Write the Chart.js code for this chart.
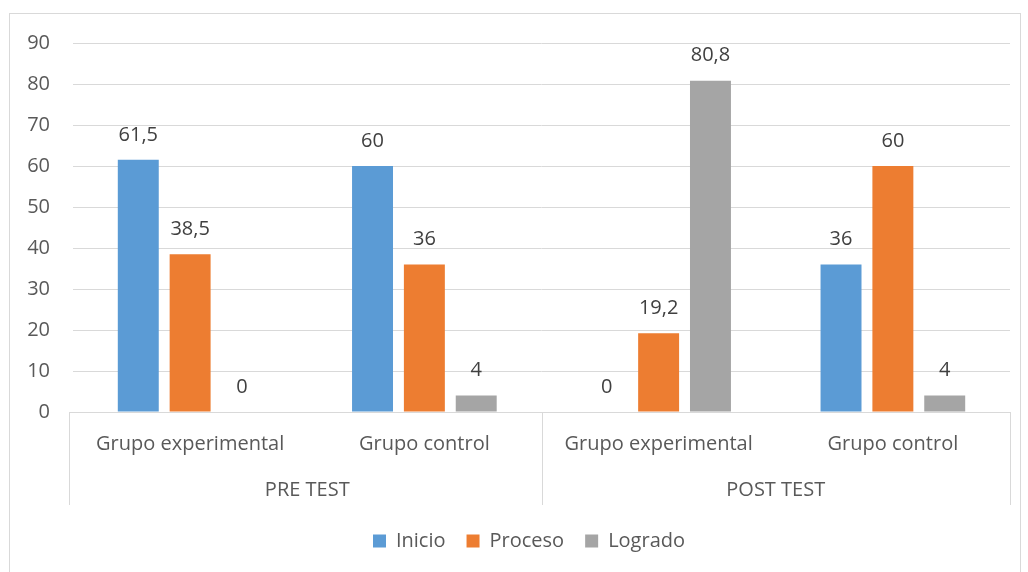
<!DOCTYPE html>
<html>
<head>
<meta charset="utf-8">
<script src="https://cdn.jsdelivr.net/npm/chart.js@4.4.1/dist/chart.umd.min.js"></script>
<style>
  html, body { margin: 0; padding: 0; background: #fff; }
  #frame { position: absolute; left: 9px; top: 13px; width: 1010px; height: 580px; border: 1px solid #d9d9d9; }
  #wrap { position: absolute; left: 0; top: 0; width: 1028px; height: 572px; }
</style>
</head>
<body>
<div id="frame"></div>
<div id="wrap"><canvas id="chart" width="1028" height="572"></canvas></div>
<script>
// categorías y series
const categories = ['Grupo experimental', 'Grupo control', 'Grupo experimental', 'Grupo control'];
const groups = ['PRE TEST', 'POST TEST'];
const inicio = [61.5, 60, 0, 36];
const proceso = [38.5, 36, 19.2, 60];
const logrado = [0, 4, 80.8, 4];
const yTicks = [0, 10, 20, 30, 40, 50, 60, 70, 80, 90];

const FONT = '"Open Sans", sans-serif';
const SIZE = 20;
const TEXT = '#595959';
const GRID = '#d9d9d9';

// etiquetas de datos sobre las barras
const dataLabels = {
    id: 'dataLabels',
    afterDatasetsDraw(chart) {
        const ctx = chart.ctx;
        ctx.save();
        ctx.font = SIZE + 'px ' + FONT;
        ctx.fillStyle = '#404040';
        ctx.textAlign = 'center';
        ctx.textBaseline = 'middle';
        chart.data.datasets.forEach((ds, i) => {
            chart.getDatasetMeta(i).data.forEach((bar, j) => {
                const txt = String(ds.data[j]).replace('.', ',');
                ctx.fillText(txt, bar.x, bar.y - 25);
            });
        });
        ctx.restore();
    }
};

// líneas divisorias del eje de categorías
const groupLines = {
    id: 'groupLines',
    afterDraw(chart) {
        const ctx = chart.ctx;
        const x = chart.scales.x;
        const area = chart.chartArea;
        const mid = (x.getPixelForValue(1) + x.getPixelForValue(2)) / 2;
        const bottom = area.bottom + 93;
        ctx.save();
        ctx.strokeStyle = GRID;
        ctx.lineWidth = 1;
        ctx.beginPath();
        ctx.moveTo(area.left - 4, area.bottom + 0.5);
        ctx.lineTo(area.right, area.bottom + 0.5);
        [area.left - 4, mid, area.right].forEach(px => {
            const p = Math.round(px) + 0.5;
            ctx.moveTo(p, area.bottom);
            ctx.lineTo(p, bottom);
        });
        ctx.stroke();
        ctx.restore();
    }
};

// desplaza la leyenda como en el original
const legendShift = {
    id: 'legendShift',
    afterUpdate(chart) {
        chart.legend.left += 19;
        chart.legend.right += 19;
    }
};

new Chart(document.getElementById('chart').getContext('2d'), {
    type: 'bar',
    data: {
        labels: categories,
        datasets: [
            { label: 'Inicio', data: inicio, backgroundColor: '#5b9bd5' },
            { label: 'Proceso', data: proceso, backgroundColor: '#ed7d31' },
            { label: 'Logrado', data: logrado, backgroundColor: '#a5a5a5' }
        ]
    },
    options: {
        responsive: false,
        animation: false,
        categoryPercentage: 0.664,
        barPercentage: 0.79,
        layout: { padding: { left: 10, right: 18, top: 43, bottom: 11 } },
        plugins: {
            legend: {
                position: 'bottom',
                labels: {
                    font: { family: FONT, size: SIZE },
                    color: TEXT,
                    boxWidth: 13,
                    boxHeight: 13,
                    padding: 21
                }
            },
            tooltip: { enabled: false }
        },
        scales: {
            x: {
                grid: { display: false },
                border: { display: false },
                ticks: { font: { family: FONT, size: SIZE }, color: TEXT, padding: 12 },
                afterFit(s) { s.height = 50; }
            },
            x2: {
                type: 'category',
                labels: groups,
                position: 'bottom',
                grid: { display: false },
                border: { display: false },
                ticks: { font: { family: FONT, size: SIZE }, color: TEXT, padding: 8 },
                afterFit(s) { s.height = 48; }
            },
            y: {
                min: 0,
                max: 90,
                afterBuildTicks(s) { s.ticks = yTicks.map(v => ({ value: v })); },
                grid: { color: GRID, drawTicks: false },
                border: { display: false },
                ticks: { font: { family: FONT, size: SIZE }, color: TEXT, padding: 23 },
                afterFit(s) { s.width = 63; }
            }
        }
    },
    plugins: [dataLabels, groupLines, legendShift]
});
</script>
</body>
</html>
